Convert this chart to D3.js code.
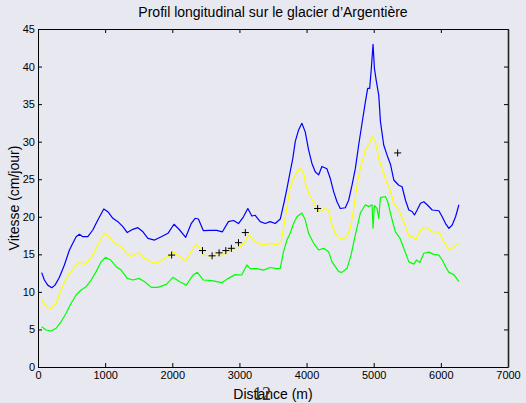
<!DOCTYPE html>
<html>
<head>
<meta charset="utf-8">
<script src="https://cdn.jsdelivr.net/npm/d3@7"></script>
<style>
  body { margin: 0; background: #e8e8f0; }
  text { font-family: "Liberation Sans", Arial, Helvetica, sans-serif; }
</style>
</head>
<body>
<div id="chart"></div>
<script>
// values: [distance m, speed cm/day]
const blueSeries = [
  [55,12.56],[95,11.58],[145,10.9],[205,10.56],[254,10.9],[319,11.94],[393,13.58],[468,15.58],
  [518,16.47],[568,17.35],[617,17.67],[667,17.35],[742,17.35],[816,18.24],[891,19.57],[980,21.04],
  [1040,20.68],[1115,19.8],[1190,19.35],[1264,18.68],[1329,17.9],[1413,18.33],[1488,18.55],[1563,18.0],
  [1637,17.13],[1737,16.9],[1836,17.35],[1936,17.8],[2025,19.0],[2110,18.24],[2200,17.27],[2284,19.13],
  [2340,19.8],[2389,19.7],[2463,18.15],[2563,18.2],[2662,18.2],[2747,18.0],[2836,19.35],[2911,19.5],
  [2986,19.1],[3060,20.0],[3125,21.1],[3185,20.1],[3235,20.2],[3309,19.35],[3384,19.1],[3458,19.35],
  [3533,19.1],[3608,19.7],[3667,22.0],[3707,23.7],[3756,26.0],[3796,27.8],[3831,30.0],[3881,31.56],
  [3930,32.45],[3980,31.3],[4030,28.9],[4080,27.1],[4129,26.0],[4179,25.57],[4229,26.7],[4303,26.4],
  [4353,25.1],[4403,23.35],[4453,22.0],[4502,21.1],[4577,21.2],[4627,22.2],[4677,24.2],[4726,26.4],
  [4776,29.56],[4826,32.45],[4876,35.3],[4910,37.1],[4940,37.1],[4965,39.8],[4990,42.97],[5010,39.8],
  [5040,38.0],[5075,36.2],[5100,32.7],[5149,29.56],[5199,28.2],[5249,27.0],[5299,24.9],[5373,24.2],
  [5423,24.0],[5473,22.2],[5523,20.9],[5572,20.7],[5607,20.24],[5647,20.9],[5697,21.8],[5746,22.0],
  [5796,21.6],[5871,20.9],[5970,20.8],[6020,20.0],[6070,19.1],[6120,18.45],[6169,18.9],[6219,20.0],
  [6269,21.6]
];

const yellowSeries = [
  [55,9.0],[120,8.03],[195,7.77],[269,8.48],[344,10.25],[418,11.8],[493,12.7],[568,13.58],
  [617,13.9],[692,13.7],[767,14.25],[841,15.35],[916,16.68],[990,17.8],[1065,17.35],[1140,16.47],
  [1239,16.0],[1314,15.14],[1389,14.7],[1463,15.14],[1513,15.2],[1588,14.47],[1712,13.8],[1811,14.0],
  [1936,14.7],[2010,15.35],[2110,14.7],[2200,14.16],[2284,15.35],[2350,16.3],[2400,15.98],[2463,14.9],
  [2563,14.8],[2662,14.9],[2737,14.8],[2812,15.35],[2911,15.8],[3011,15.98],[3085,16.7],[3135,17.6],
  [3210,16.9],[3284,16.45],[3359,16.25],[3458,16.45],[3558,16.25],[3622,16.7],[3657,18.5],[3692,20.5],
  [3720,22.0],[3756,24.0],[3806,25.1],[3856,26.0],[3915,26.45],[3955,25.8],[3995,24.0],[4045,22.9],
  [4105,22.0],[4154,20.9],[4204,20.7],[4279,21.1],[4328,20.9],[4378,18.9],[4428,17.8],[4478,17.2],
  [4527,17.0],[4602,17.35],[4652,18.5],[4702,21.1],[4761,24.7],[4801,26.45],[4876,28.9],[4925,29.56],
  [4975,30.67],[5025,30.0],[5075,27.8],[5124,26.45],[5189,24.7],[5249,23.4],[5299,21.8],[5373,20.9],
  [5448,19.35],[5523,17.45],[5572,17.4],[5622,16.9],[5672,17.8],[5722,18.47],[5796,18.6],[5871,18.0],
  [5946,18.0],[5995,17.6],[6045,16.7],[6120,15.58],[6194,16.0],[6269,16.47]
];

const greenSeries = [
  [55,5.37],[120,4.93],[195,4.79],[269,5.15],[344,6.03],[418,7.15],[493,8.48],[568,9.59],
  [642,10.25],[717,10.7],[791,11.58],[866,12.7],[941,14.0],[1005,14.6],[1080,14.25],[1165,13.36],
  [1239,12.9],[1329,11.8],[1413,11.58],[1503,11.8],[1588,11.36],[1687,10.6],[1786,10.6],[1911,11.0],
  [2010,11.94],[2110,11.36],[2209,10.9],[2309,12.25],[2373,12.6],[2463,11.58],[2588,11.5],[2737,11.23],
  [2836,11.8],[2936,12.3],[3035,12.25],[3110,13.58],[3160,13.1],[3259,13.1],[3359,12.9],[3458,13.25],
  [3558,13.1],[3607,13.14],[3657,15.35],[3707,16.9],[3756,17.8],[3806,19.1],[3856,20.0],[3930,20.5],
  [3980,19.6],[4030,17.8],[4105,16.47],[4179,15.58],[4254,15.8],[4328,15.35],[4378,14.0],[4428,13.36],
  [4478,12.7],[4527,12.6],[4602,13.14],[4662,14.9],[4726,17.6],[4801,20.5],[4876,21.6],[4925,21.35],
  [4975,21.6],[4990,18.47],[5010,21.5],[5050,21.1],[5075,19.8],[5100,22.55],[5174,22.7],[5209,22.0],
  [5249,20.5],[5274,19.6],[5323,18.0],[5388,17.2],[5448,15.8],[5523,14.0],[5597,13.7],[5637,14.25],
  [5687,13.9],[5746,15.14],[5821,15.3],[5896,15.0],[5970,14.9],[6020,14.25],[6070,13.36],[6120,12.6],
  [6194,12.3],[6269,11.36]
];

// measured points (crosses)
const measured = [
  [1990,14.9],[2450,15.5],[2593,14.8],[2697,15.2],[2797,15.5],[2880,15.8],
  [2986,16.55],[3088,17.9],[4165,21.1],[5357,28.5]
];

const xTicks = [0,1000,2000,3000,4000,5000,6000,7000];
const yTicks = [0,5,10,15,20,25,30,35,40,45];

const width = 526, height = 403;
const margin = {top: 29, right: 18, bottom: 36, left: 38};

const svg = d3.select('#chart').append('svg')
  .attr('width', width).attr('height', height)
  .style('background', '#e8e8f0');

const x = d3.scaleLinear().domain([0, 7000]).range([margin.left, width - margin.right]);
const y = d3.scaleLinear().domain([0, 45]).range([height - margin.bottom, margin.top]);

const line = d3.line().x(d => x(d[0])).y(d => y(d[1]));

// curves
[[greenSeries, '#00ff00'], [yellowSeries, '#ffff00'], [blueSeries, '#0000ff']].forEach(([s, c]) => {
  svg.append('path')
    .datum(s)
    .attr('d', line)
    .attr('fill', 'none')
    .attr('stroke', c)
    .attr('stroke-width', 1.2)
    .attr('stroke-linejoin', 'round');
});

// crosses
svg.append('g').selectAll('path')
  .data(measured)
  .enter().append('path')
  .attr('d', d => `M${x(d[0]) - 3.5},${y(d[1])}h7M${x(d[0])},${y(d[1]) - 3.5}v7`)
  .attr('stroke', '#000')
  .attr('stroke-width', 1);

// axes, ticks pointing inwards on all four sides
const styleAxis = g => {
  g.select('.domain').attr('stroke', '#000');
  g.selectAll('.tick line').attr('stroke', '#000');
  g.selectAll('text').style('font-size', '11px').attr('fill', '#000');
};

svg.append('g')
  .attr('transform', `translate(0,${height - margin.bottom})`)
  .call(d3.axisBottom(x).tickValues(xTicks).tickFormat(d3.format('d'))
    .tickSizeInner(-4).tickSizeOuter(0).tickPadding(4))
  .call(styleAxis);

svg.append('g')
  .attr('transform', `translate(${margin.left},0)`)
  .call(d3.axisLeft(y).tickValues(yTicks).tickFormat(d3.format('d'))
    .tickSizeInner(-4).tickSizeOuter(0).tickPadding(3))
  .call(styleAxis);

svg.append('g')
  .attr('transform', `translate(0,${margin.top})`)
  .call(d3.axisTop(x).tickValues(xTicks).tickSizeInner(-4).tickSizeOuter(0).tickFormat(''))
  .call(styleAxis);

svg.append('g')
  .attr('transform', `translate(${width - margin.right},0)`)
  .call(d3.axisRight(y).tickValues(yTicks).tickSizeInner(-4).tickSizeOuter(0).tickFormat(''))
  .call(g => { styleAxis(g); g.select('.domain').attr('stroke-width', 1.6).attr('stroke', '#222'); });

// titles
svg.append('text')
  .attr('x', (margin.left + width - margin.right) / 2)
  .attr('y', 17)
  .attr('text-anchor', 'middle')
  .style('font-size', '14px')
  .text('Profil longitudinal sur le glacier d\u2019Argentière');

svg.append('text')
  .attr('x', (margin.left + width - margin.right) / 2)
  .attr('y', 399)
  .attr('text-anchor', 'middle')
  .style('font-size', '14px')
  .text('Distance (m)');

// stray label overlapping the axis title, as in the source figure
svg.append('text')
  .attr('x', 262)
  .attr('y', 400)
  .attr('text-anchor', 'middle')
  .style('font-family', '"Liberation Serif", "DejaVu Serif", serif')
  .style('font-size', '18px')
  .attr('fill', '#333')
  .text('12');

svg.append('text')
  .attr('transform', `translate(19,${(margin.top + height - margin.bottom) / 2}) rotate(-90)`)
  .attr('text-anchor', 'middle')
  .style('font-size', '14px')
  .text('Vitesse (cm/jour)');
</script>
</body>
</html>
